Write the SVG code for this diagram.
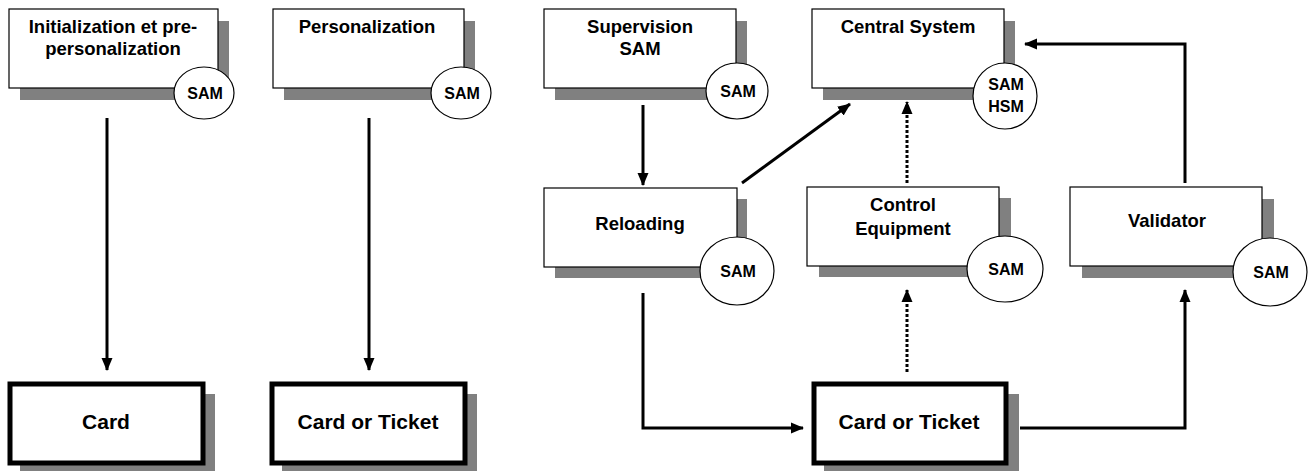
<svg xmlns="http://www.w3.org/2000/svg" width="1310" height="471" viewBox="0 0 1310 471">
<style>
.bg{fill:#fff}
.sh{fill:#808080}
.box{fill:#fff;stroke:#000;stroke-width:1.2}
.card{fill:#fff;stroke:#000;stroke-width:5}
.sam{fill:#fff;stroke:#000;stroke-width:1.2}
.lbl{font-family:"Liberation Sans",Arial,sans-serif;font-weight:bold;font-size:18.5px;fill:#000;text-anchor:middle}
.cl{font-size:21px}
.st{font-size:16px}
.c{fill:none;stroke:#000;stroke-width:3}
.d{fill:none;stroke:#000;stroke-width:3;stroke-dasharray:3 2}
</style>
<defs>
<marker id="ah" markerWidth="13" markerHeight="12" viewBox="0 0 13 12" refX="12" refY="6" orient="auto" markerUnits="userSpaceOnUse">
<path d="M0,0.5 L13,6 L0,11.5 Z" fill="#000"/>
</marker>
</defs>
<rect class="bg" x="0" y="0" width="1310" height="471"/>

<g id="init">
<rect class="sh" x="20" y="21" width="209" height="79"/>
<rect class="box" x="9" y="9" width="209" height="79"/>
<ellipse class="sam" cx="204" cy="93" rx="30" ry="26"/>
<text class="lbl" x="113" y="33">Initialization et pre-</text>
<text class="lbl" x="113" y="55">personalization</text>
<text class="lbl st" x="205" y="99">SAM</text>
</g>

<g id="perso">
<rect class="sh" x="284" y="21" width="191" height="79"/>
<rect class="box" x="273" y="9" width="191" height="79"/>
<ellipse class="sam" cx="461" cy="93" rx="30" ry="26"/>
<text class="lbl" x="367" y="33">Personalization</text>
<text class="lbl st" x="462" y="99">SAM</text>
</g>

<g id="supervision">
<rect class="sh" x="555" y="21" width="192" height="79"/>
<rect class="box" x="544" y="9" width="192" height="79"/>
<ellipse class="sam" cx="737" cy="91" rx="31" ry="28"/>
<text class="lbl" x="640" y="33">Supervision</text>
<text class="lbl" x="640" y="55">SAM</text>
<text class="lbl st" x="738" y="97">SAM</text>
</g>

<g id="central">
<rect class="sh" x="823" y="21" width="192" height="79"/>
<rect class="box" x="812" y="9" width="192" height="79"/>
<ellipse class="sam" cx="1005" cy="96" rx="32" ry="33"/>
<text class="lbl" x="908" y="33">Central System</text>
<text class="lbl st" x="1006" y="90">SAM</text>
<text class="lbl st" x="1006" y="112">HSM</text>
</g>

<g id="reloading">
<rect class="sh" x="555" y="199" width="192" height="79"/>
<rect class="box" x="544" y="188" width="193" height="79"/>
<ellipse class="sam" cx="737" cy="271" rx="37" ry="34"/>
<text class="lbl" x="640" y="230">Reloading</text>
<text class="lbl st" x="738" y="277">SAM</text>
</g>

<g id="control">
<rect class="sh" x="819" y="198" width="192" height="79"/>
<rect class="box" x="807" y="187" width="192" height="79"/>
<ellipse class="sam" cx="1005" cy="269" rx="38" ry="33"/>
<text class="lbl" x="903" y="211">Control</text>
<text class="lbl" x="903" y="235">Equipment</text>
<text class="lbl st" x="1006" y="275">SAM</text>
</g>

<g id="validator">
<rect class="sh" x="1082" y="199" width="192" height="79"/>
<rect class="box" x="1070" y="187" width="192" height="79"/>
<ellipse class="sam" cx="1270" cy="272" rx="37" ry="34"/>
<text class="lbl" x="1167" y="227">Validator</text>
<text class="lbl st" x="1271" y="278">SAM</text>
</g>

<g id="card1">
<rect class="sh" x="20" y="394" width="195" height="82"/>
<rect class="card" x="10" y="384" width="193" height="79"/>
<text class="lbl cl" x="106" y="429">Card</text>
</g>

<g id="card2">
<rect class="sh" x="282" y="394" width="195" height="82"/>
<rect class="card" x="272" y="384" width="193" height="79"/>
<text class="lbl cl" x="368" y="429">Card or Ticket</text>
</g>

<g id="card3">
<rect class="sh" x="824" y="394" width="195" height="82"/>
<rect class="card" x="814" y="384" width="192" height="79"/>
<text class="lbl cl" x="909" y="429">Card or Ticket</text>
</g>

<g id="connectors">
<line class="c" x1="107" y1="118" x2="107" y2="370" marker-end="url(#ah)"/>
<line class="c" x1="369" y1="118" x2="369" y2="370" marker-end="url(#ah)"/>
<line class="c" x1="643" y1="105" x2="643" y2="185" marker-end="url(#ah)"/>
<line class="c" x1="742" y1="183" x2="850" y2="104" marker-end="url(#ah)"/>
<line class="d" x1="907" y1="183" x2="907" y2="102" marker-end="url(#ah)"/>
<line class="d" x1="907" y1="372" x2="907" y2="290" marker-end="url(#ah)"/>
<polyline class="c" points="643,293 643,428 803,428" marker-end="url(#ah)"/>
<polyline class="c" points="1020,428 1185,428 1185,290" marker-end="url(#ah)"/>
<polyline class="c" points="1185,183 1185,44 1025,44" marker-end="url(#ah)"/>
</g>
</svg>
